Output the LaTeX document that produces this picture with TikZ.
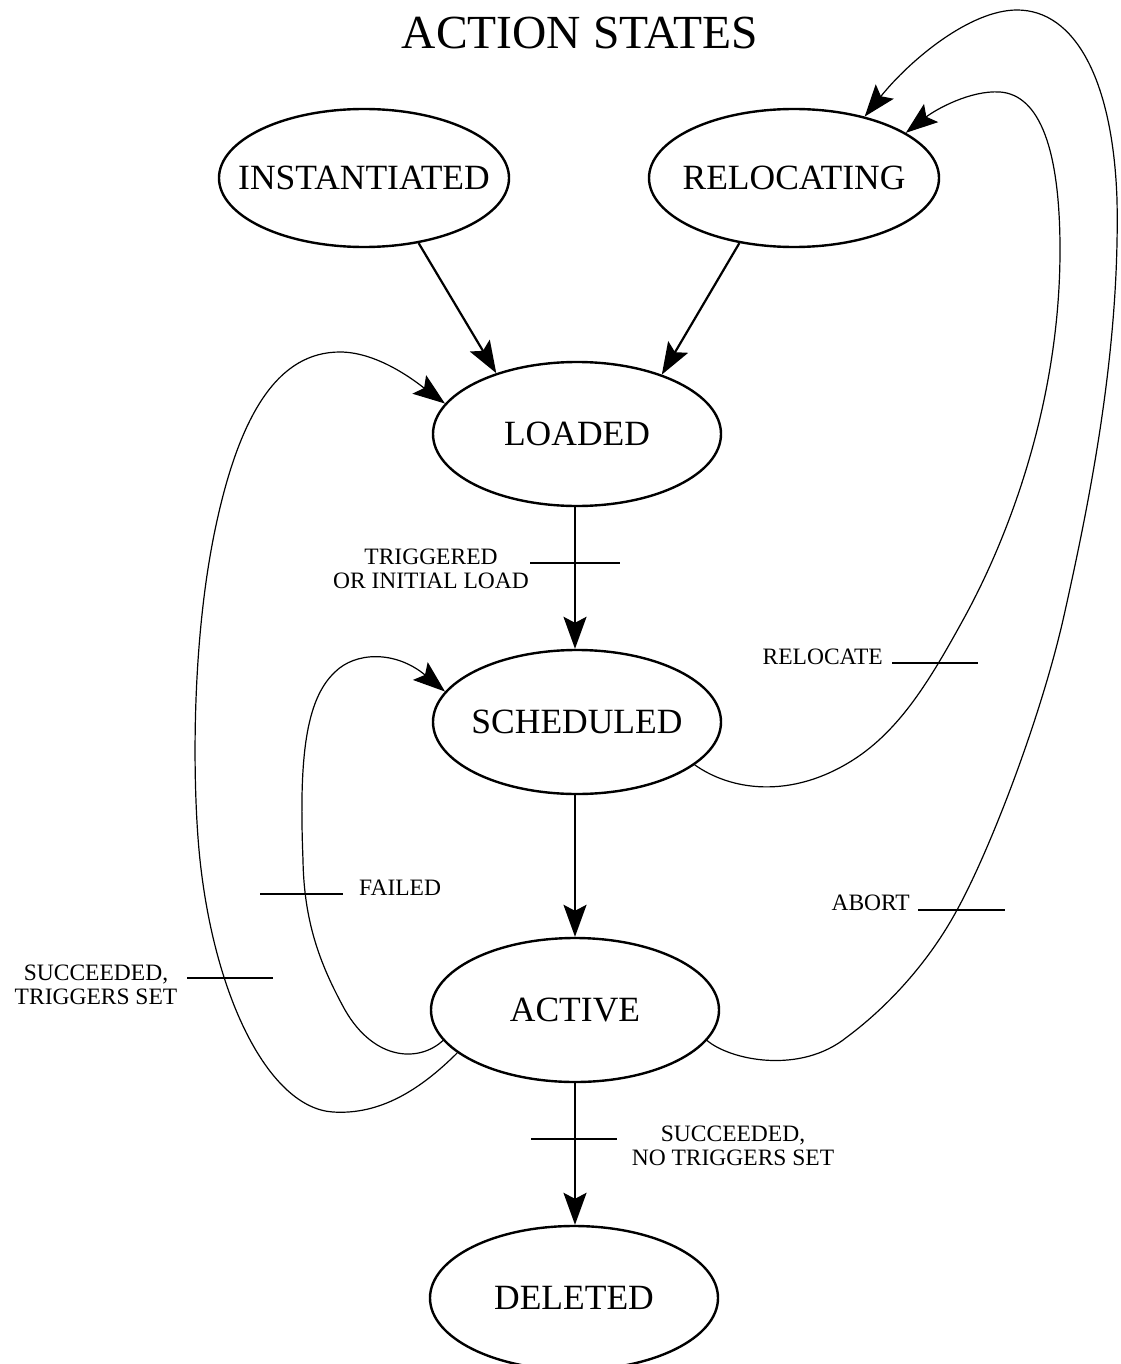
\documentclass[tikz,border=0pt]{standalone}
\usepackage{fontspec}
\setmainfont{Liberation Serif}
\usetikzlibrary{arrows.meta,shapes.geometric}
% state label set in a zero-width box so the ellipse keeps its given size
\newcommand{\statetext}[1]{\makebox[0pt]{#1}}
\begin{document}
\begin{tikzpicture}[x=1pt,y=-1pt,
  stnode/.style={ellipse,draw,line width=2.4pt,minimum width=288pt,minimum height=144pt,
                 inner sep=0pt,font=\fontsize{35.5}{40}\selectfont},
  topnode/.style={stnode,minimum width=290pt,minimum height=138pt},
  flow/.style={line width=2.2pt,-{Stealth[length=32pt,width=23pt,inset=6pt]}},
  backarc/.style={line width=1.2pt,-{Stealth[length=32pt,width=23pt,inset=6pt]}},
  crossbar/.style={line width=1.6pt},
  lbl/.style={align=center,inner sep=0pt,font=\fontsize{23.5}{24}\selectfont}]

% page
\useasboundingbox[fill=white] (0,0) rectangle (1120,1364);

% title
\node[font=\fontsize{47.5}{52}\selectfont] (title) at (580,33) {ACTION STATES};

% states
\node[topnode] (inst)  at (364,178)  {\statetext{INSTANTIATED}};
\node[topnode] (reloc) at (794,178)  {\statetext{RELOCATING}};
\node[stnode]  (load)  at (577,434)  {\statetext{LOADED}};
\node[stnode]  (sched) at (577,722)  {\statetext{SCHEDULED}};
\node[stnode]  (act)   at (575,1010) {\statetext{ACTIVE}};
\node[stnode]  (del)   at (574,1298) {\statetext{DELETED}};

% straight transitions
\draw[flow] (inst.-50)  -- (load.143);
\draw[flow] (reloc.-130) -- (load.35);
\draw[flow] (load.south -| act.south)  -- (sched.north -| act.south);
\draw[flow] (sched.south -| act.south) -- (act.north);
\draw[flow] (act.south)   -- (act.south |- del.north);

% succeeded, triggers set: ACTIVE back to LOADED
\draw[backarc] (act.200)
  .. controls (420,1090) and (380,1115) .. (333,1112)
  .. controls (270,1108) and (215,1000) .. (200,860)
  .. controls (193,795) and (190,650) .. (215,530)
  .. controls (240,410) and (280,352) .. (340,352)
  .. controls (380,352) and (420,385) .. (load.167);

% failed: ACTIVE back to SCHEDULED
\draw[backarc] (act.193)
  .. controls (420,1062) and (375,1062) .. (345,1010)
  .. controls (322,968) and (304,925) .. (303,860)
  .. controls (299,760) and (305,700) .. (335,672)
  .. controls (355,652) and (395,650) .. (sched.167);

% relocate: SCHEDULED to RELOCATING
\draw[backarc] (sched.-20)
  .. controls (730,790) and (790,800) .. (853,760)
  .. controls (900,730) and (930,680) .. (963,620)
  .. controls (1010,535) and (1060,400) .. (1060,250)
  .. controls (1060,150) and (1040,95) .. (1000,92)
  .. controls (970,90) and (935,110) .. (reloc.22);

% abort: ACTIVE to RELOCATING
\draw[backarc] (act.-13)
  .. controls (730,1060) and (800,1075) .. (847,1037)
  .. controls (890,1005) and (930,960) .. (957,910)
  .. controls (990,850) and (1040,720) .. (1063,620)
  .. controls (1090,500) and (1120,350) .. (1117,200)
  .. controls (1113,80) and (1075,10) .. (1017,10)
  .. controls (970,10) and (910,60) .. (reloc.41);

% condition bars and their labels
\draw[crossbar] (530,563) -- (620,563);
\node[lbl] (ltrig) at (431,569) {TRIGGERED\\OR INITIAL LOAD};

\draw[crossbar] (892,663) -- (978,663);
\node[lbl,anchor=east] (lreloc) at (883,657) {RELOCATE};

\draw[crossbar] (260,894) -- (343,894);
\node[lbl,anchor=west] (lfail) at (359,888) {FAILED};

\draw[crossbar] (918,910) -- (1005,910);
\node[lbl,anchor=east] (labort) at (910,903) {ABORT};

\draw[crossbar] (187,978) -- (273,978);
\node[lbl] (lsucc) at (96,985) {SUCCEEDED,\\TRIGGERS SET};

\draw[crossbar] (531,1139) -- (617,1139);
\node[lbl] (ldone) at (733,1146) {SUCCEEDED,\\NO TRIGGERS SET};

\end{tikzpicture}
\end{document}
